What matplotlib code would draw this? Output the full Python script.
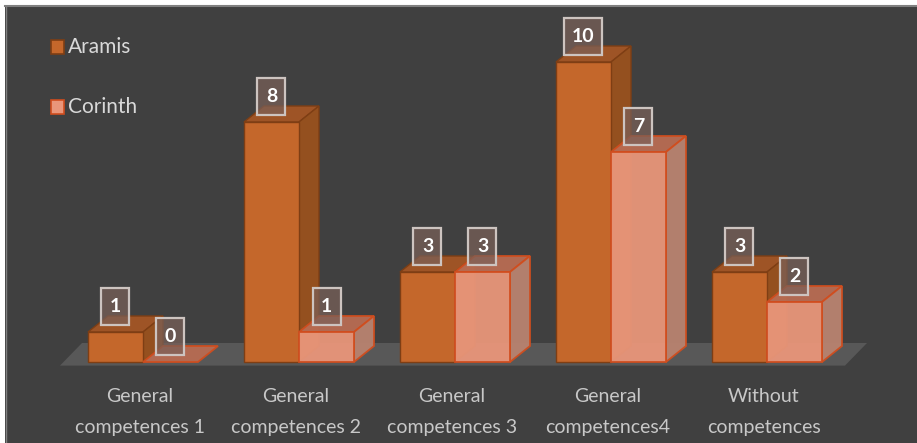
import matplotlib
matplotlib.use('Agg')
import matplotlib.pyplot as plt
from matplotlib.patches import Polygon, Rectangle

categories = ["General\ncompetences 1", "General\ncompetences 2", "General\ncompetences 3",
              "General\ncompetences4", "Without\ncompetences"]
series_names = ["Aramis", "Corinth"]
aramis = [1, 8, 3, 10, 3]
corinth = [0, 1, 3, 7, 2]

W, H = 917, 443
fig = plt.figure(figsize=(W / 100, H / 100), dpi=100)
fig.patch.set_facecolor('#404040')
ax = fig.add_axes([0, 0, 1, 1])
ax.set_facecolor('#404040')
ax.axis('off')

# layout (pixel-based mapping to data units)
gx0, gstep = 143.0, 156.0
base_px, unit_px = 362.0, 30.0
ax.set_xlim(-gx0 / gstep, (W - gx0) / gstep)
ax.set_ylim((base_px - H) / unit_px, base_px / unit_px)

bw = 55.0 / gstep
dx = 20.0 / gstep
dy = 16.0 / unit_px

# floor
fl, fr = (60 - gx0) / gstep, (845 - gx0) / gstep
fdy = 19.0 / unit_px
fdx = 22.0 / gstep
floor = Polygon([(fl, -0.12), (fr, -0.12), (fr + fdx, fdy), (fl + fdx, fdy)],
                closed=True, facecolor='#585858', edgecolor='none', zorder=1)
ax.add_patch(floor)

styles = {
    "Aramis": dict(front='#C4672B', top='#9E5426', side='#94501F', edge='#7E3E14', lw=1.0, alpha=1.0),
    "Corinth": dict(front='#E9967A', top='#B86C52', side='#B98370', edge='#D04D1E', lw=1.3, alpha=0.95),
}


def draw_bar(x0, h, st, z):
    x1 = x0 + bw
    top = Polygon([(x0, h), (x1, h), (x1 + dx, h + dy), (x0 + dx, h + dy)], closed=True,
                  facecolor=st['top'], edgecolor=st['edge'], lw=st['lw'], alpha=st['alpha'], zorder=z)
    ax.add_patch(top)
    if h > 0:
        side = Polygon([(x1, 0), (x1 + dx, dy), (x1 + dx, h + dy), (x1, h)], closed=True,
                       facecolor=st['side'], edgecolor=st['edge'], lw=st['lw'], alpha=st['alpha'], zorder=z)
        ax.add_patch(side)
        front = Rectangle((x0, 0), bw, h, facecolor=st['front'], edgecolor=st['edge'],
                          lw=st['lw'], alpha=st['alpha'], zorder=z + 0.5)
        ax.add_patch(front)


def label(xc, h, v):
    s = str(v)
    wpx = 28 if len(s) == 1 else 38
    hpx = 37
    yc = h + 0.85
    ax.add_patch(Rectangle((xc - wpx / 2 / gstep, yc - hpx / 2 / unit_px), wpx / gstep, hpx / unit_px,
                           facecolor='#7a6058', alpha=0.72, edgecolor='none', zorder=19))
    ax.add_patch(Rectangle((xc - wpx / 2 / gstep, yc - hpx / 2 / unit_px), wpx / gstep, hpx / unit_px,
                           facecolor='none', edgecolor='#cdc4c0', lw=1.6, zorder=19.5))
    ax.text(xc, yc, s, ha='center', va='center', color='white', fontsize=14,
            fontweight='bold', family='Lato', zorder=20)


for i in range(len(categories)):
    draw_bar(i - bw, aramis[i], styles['Aramis'], 3)
    draw_bar(i, corinth[i], styles['Corinth'], 5)
for i in range(len(categories)):
    label(i - bw / 2, aramis[i], aramis[i])
    label(i + bw / 2, corinth[i], corinth[i])

# category labels
for i, c in enumerate(categories):
    ax.text(i - 0.02, (base_px - 412) / unit_px, c, ha='center', va='center', color='#c8c8c8',
            fontsize=14, family='Lato', linespacing=2.0, zorder=10)

# legend
leg_items = [("Aramis", styles['Aramis'], 47), ("Corinth", styles['Corinth'], 107)]
for name, st, ypx in leg_items:
    fig.add_artist(Rectangle((51 / W, 1 - (ypx + 7) / H), 13 / W, 14 / H, transform=fig.transFigure,
                             facecolor=st['front'], edgecolor=st['edge'], lw=1.2))
    fig.text(68 / W, 1 - ypx / H, name, ha='left', va='center', color='#d9d9d9',
             fontsize=15, family='Lato')

# white margin and frame line
fig.add_artist(Rectangle((0, 1 - 5 / H), 1, 5 / H, transform=fig.transFigure,
                         facecolor='white', edgecolor='none', zorder=30))
fig.add_artist(Rectangle((0, 0), 5 / W, 1, transform=fig.transFigure,
                         facecolor='white', edgecolor='none', zorder=30))
fig.add_artist(plt.Line2D([5 / W, 1], [1 - 6 / H, 1 - 6 / H], transform=fig.transFigure,
                          color='#808080', lw=1.5, zorder=31))
fig.add_artist(plt.Line2D([5.5 / W, 5.5 / W], [0, 1 - 6 / H], transform=fig.transFigure,
                          color='#808080', lw=1.0, zorder=31))

fig.savefig('out.png', dpi=100, facecolor=fig.get_facecolor())
